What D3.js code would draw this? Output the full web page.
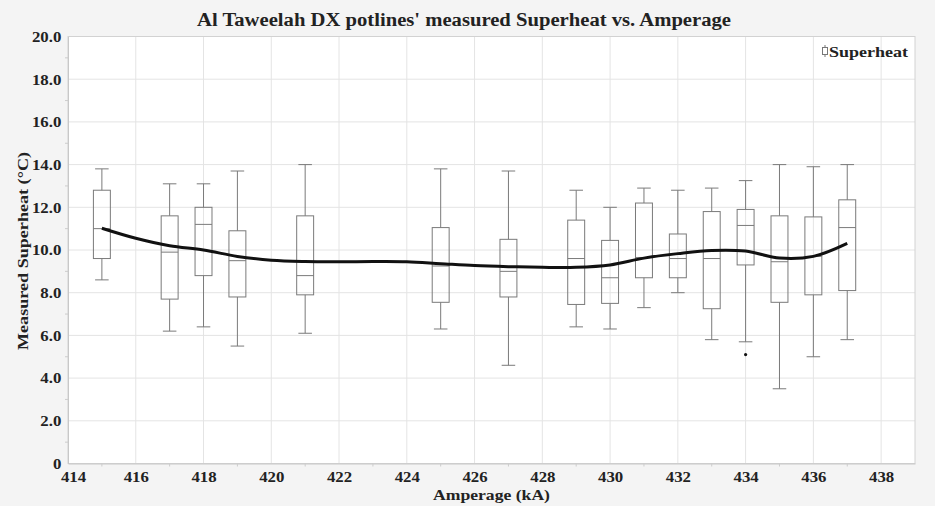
<!DOCTYPE html>
<html>
<head>
<meta charset="utf-8">
<script src="https://cdn.jsdelivr.net/npm/d3@7"></script>
<style>
  body { margin: 0; background: #f4f4f4; }
  svg { display: block; }
</style>
</head>
<body>
<svg id="chart" width="935" height="506"></svg>
<script>
// amperage groups (kA) and box stats of measured superheat (°C)
const amps   = [415, 417, 418, 419, 421, 425, 427, 429, 430, 431, 432, 433, 434, 435, 436, 437]
const whiskHi = [13.8, 13.1, 13.1, 13.7, 14.0, 13.8, 13.7, 12.8, 12.0, 12.9, 12.8, 12.9, 13.25, 14.0, 13.9, 14.0]
const q3      = [12.8, 11.6, 12.0, 10.9, 11.6, 11.05, 10.5, 11.4, 10.45, 12.2, 10.75, 11.8, 11.9, 11.6, 11.55, 12.35]
const median  = [11.0, 9.9, 11.2, 9.5, 8.8, 9.25, 9.0, 9.6, 8.7, 9.65, 9.6, 9.6, 11.15, 9.45, 9.7, 11.05]
const q1      = [9.6, 7.7, 8.8, 7.8, 7.9, 7.55, 7.8, 7.45, 7.5, 8.7, 8.7, 7.25, 9.3, 7.55, 7.9, 8.1]
const whiskLo = [8.6, 6.2, 6.4, 5.5, 6.1, 6.3, 4.6, 6.4, 6.3, 7.3, 8.0, 5.8, 5.7, 3.5, 5.0, 5.8]
const outliers = [[434, 5.1]]

// smoother through the data
const fitX = [415, 416, 417, 418, 419, 420, 421, 422, 423, 424, 425, 426, 427, 428, 429, 430, 431, 432, 433, 434, 435, 436, 437]
const fitY = [11.02, 10.55, 10.2, 10.0, 9.7, 9.52, 9.46, 9.45, 9.46, 9.45, 9.36, 9.27, 9.22, 9.19, 9.19, 9.3, 9.62, 9.83, 9.98, 9.95, 9.62, 9.7, 10.31]

const xTicks = d3.range(414, 439, 2)
const yTicks = d3.range(0, 20.1, 2)

const svg = d3.select('#chart')
const mLeft = 68, mRight = 915, mTop = 36.5, mBottom = 463.5

const x = d3.scaleLinear().domain([414, 439]).range([mLeft, mRight])
const y = d3.scaleLinear().domain([0, 20]).range([mBottom, mTop])

const serif = '"Liberation Serif", "Times New Roman", serif'

// plot background
svg.append('rect')
  .attr('x', mLeft).attr('y', mTop)
  .attr('width', mRight - mLeft).attr('height', mBottom - mTop)
  .attr('fill', '#fff')

// grid
svg.append('g').selectAll('line').data(xTicks.slice(1)).enter().append('line')
  .attr('x1', d => x(d)).attr('x2', d => x(d))
  .attr('y1', mTop).attr('y2', mBottom)
  .attr('stroke', '#e4e4e4')
svg.append('g').selectAll('line').data(yTicks.slice(1)).enter().append('line')
  .attr('x1', mLeft).attr('x2', mRight)
  .attr('y1', d => y(d)).attr('y2', d => y(d))
  .attr('stroke', '#e4e4e4')

// border
svg.append('rect')
  .attr('x', mLeft).attr('y', mTop)
  .attr('width', mRight - mLeft).attr('height', mBottom - mTop)
  .attr('fill', 'none').attr('stroke', '#d2d2d2')

// axes (labels a bit wide, like the original)
const xAxis = svg.append('g')
  .attr('transform', `translate(0,${mBottom})`)
  .call(d3.axisBottom(x).tickValues(xTicks).tickSize(0).tickPadding(8).tickFormat(d3.format('d')))
xAxis.select('.domain').attr('stroke', '#c8c8c8')
xAxis.selectAll('text')
  .attr('font-family', serif).attr('font-weight', 'bold').attr('font-size', 15).attr('fill', '#222')
  .attr('transform', (d, i) => i === 0 ? 'translate(5,0) scale(1.12,1)' : 'scale(1.12,1)')
svg.append('g').selectAll('line').data(d3.range(415, 439, 2)).enter().append('line')
  .attr('x1', d => x(d)).attr('x2', d => x(d))
  .attr('y1', mBottom).attr('y2', mBottom + 3)
  .attr('stroke', '#ccc')

const yAxis = svg.append('g')
  .attr('transform', `translate(${mLeft},0)`)
  .call(d3.axisLeft(y).tickValues(yTicks).tickSize(0).tickPadding(6)
    .tickFormat(d => d === 0 ? '0' : d3.format('.1f')(d)))
yAxis.select('.domain').attr('stroke', '#c8c8c8')
yAxis.selectAll('text')
  .attr('font-family', serif).attr('font-weight', 'bold').attr('font-size', 15).attr('fill', '#222')
  .attr('transform', 'scale(1.12,1)')
svg.append('g').selectAll('line').data(d3.range(1, 20, 2)).enter().append('line')
  .attr('x1', mLeft - 3).attr('x2', mLeft)
  .attr('y1', d => y(d)).attr('y2', d => y(d))
  .attr('stroke', '#ccc')

// boxes
const boxW = 0.5, capW = 0.4
const g = svg.append('g').attr('stroke', '#7a7a7a').attr('fill', 'none').attr('stroke-width', 1)
amps.forEach((a, i) => {
  const cx = x(a)
  g.append('line').attr('x1', cx).attr('x2', cx).attr('y1', y(whiskHi[i])).attr('y2', y(q3[i]))
  g.append('line').attr('x1', cx).attr('x2', cx).attr('y1', y(q1[i])).attr('y2', y(whiskLo[i]))
  g.append('line').attr('x1', x(a - capW / 2)).attr('x2', x(a + capW / 2)).attr('y1', y(whiskHi[i])).attr('y2', y(whiskHi[i]))
  g.append('line').attr('x1', x(a - capW / 2)).attr('x2', x(a + capW / 2)).attr('y1', y(whiskLo[i])).attr('y2', y(whiskLo[i]))
  g.append('rect')
    .attr('x', x(a - boxW / 2)).attr('width', x(a + boxW / 2) - x(a - boxW / 2))
    .attr('y', y(q3[i])).attr('height', y(q1[i]) - y(q3[i]))
  g.append('line').attr('x1', x(a - boxW / 2)).attr('x2', x(a + boxW / 2)).attr('y1', y(median[i])).attr('y2', y(median[i]))
})
svg.append('g').selectAll('circle').data(outliers).enter().append('circle')
  .attr('cx', d => x(d[0])).attr('cy', d => y(d[1])).attr('r', 1.6).attr('fill', '#111')

// smoother
const line = d3.line().x(d => x(d[0])).y(d => y(d[1])).curve(d3.curveCatmullRom)
svg.append('path')
  .datum(fitX.map((v, i) => [v, fitY[i]]))
  .attr('d', line)
  .attr('fill', 'none').attr('stroke', '#111').attr('stroke-width', 3)

// title and labels
svg.append('text').attr('x', 464).attr('y', 26).attr('text-anchor', 'middle')
  .attr('font-family', serif).attr('font-weight', 'bold').attr('font-size', 18).attr('fill', '#222')
  .attr('textLength', 534).attr('lengthAdjust', 'spacingAndGlyphs')
  .text("Al Taweelah DX potlines' measured Superheat vs. Amperage")
svg.append('text').attr('x', (mLeft + mRight) / 2).attr('y', 500).attr('text-anchor', 'middle')
  .attr('font-family', serif).attr('font-weight', 'bold').attr('font-size', 15.5).attr('fill', '#222')
  .attr('textLength', 117).attr('lengthAdjust', 'spacingAndGlyphs')
  .text('Amperage (kA)')
svg.append('text').attr('transform', 'translate(28,251) rotate(-90)').attr('text-anchor', 'middle')
  .attr('font-family', serif).attr('font-weight', 'bold').attr('font-size', 15).attr('fill', '#222')
  .attr('textLength', 198).attr('lengthAdjust', 'spacingAndGlyphs')
  .text('Measured Superheat (°C)')

// legend
const lg = svg.append('g').attr('transform', 'translate(825,51)')
lg.append('line').attr('x1', 0).attr('x2', 0).attr('y1', -6).attr('y2', 6).attr('stroke', '#777')
lg.append('rect').attr('x', -2.5).attr('y', -3.5).attr('width', 5).attr('height', 7).attr('fill', '#fff').attr('stroke', '#777')
lg.append('text').attr('x', 4).attr('y', 6)
  .attr('font-family', serif).attr('font-weight', 'bold').attr('font-size', 15).attr('fill', '#222')
  .attr('textLength', 79).attr('lengthAdjust', 'spacingAndGlyphs')
  .text('Superheat')
</script>
</body>
</html>
